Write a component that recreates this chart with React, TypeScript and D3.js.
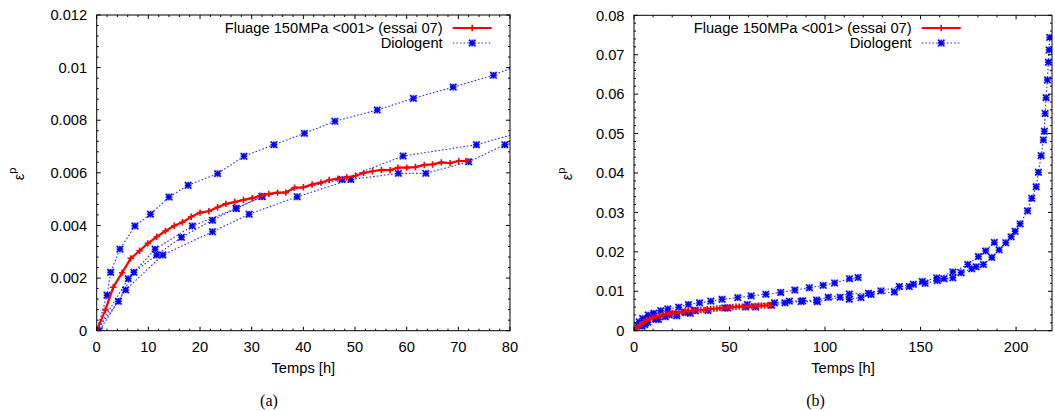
import React from "react";
import * as d3 from "d3";

// Experimental creep curve: Fluage 150MPa <001> (essai 07)
const redX = [0,1.68,3.2,4.9,6.6,8.3,9.9,11.6,13.3,15.0,16.6,18.3,20.0,21.7,23.4,25.0,26.7,28.4,30.1,31.6,33.3,35.0,36.6,38.3,40.0,41.7,43.4,45.0,46.7,48.4,50.1,51.7,53.4,55.1,56.8,58.3,60.0,61.7,63.4,65.0,66.7,68.4,70.1,71.6];
const redY = [0,0.00079,0.00165,0.0022,0.00275,0.00304,0.00332,0.00357,0.00379,0.00399,0.00412,0.00433,0.00449,0.00454,0.00469,0.00482,0.00489,0.00497,0.00504,0.00512,0.0052,0.00525,0.00525,0.00544,0.00545,0.00556,0.00563,0.00573,0.00578,0.00583,0.00589,0.006,0.00606,0.00611,0.0061,0.0062,0.0062,0.00622,0.0063,0.00632,0.0064,0.00637,0.00645,0.00645];

// Diologent simulations (several blocks)
const diolTX = [0,2.0,2.7,4.5,7.4,10.4,14.0,17.7,23.4,28.5,34.3,40.2,46.1,54.3,61.3,69.0,76.8,84.2,91.8,99.0,105.0,112.8,117.3];
const diolTY = [0,0.00135,0.00222,0.0031,0.00398,0.00443,0.00508,0.00553,0.00597,0.00663,0.00707,0.0075,0.00796,0.00839,0.00883,0.00926,0.00971,0.0103,0.0109,0.0115,0.0121,0.0132,0.0135];
const diolAX = [0,6.1,11.3,18.5,27.0,32.0,47.5,59.3,73.5,81.3,88.3,95.6,101.7,112.7,122.7,129.3,138.9,146.2,150.9,158.5,166.9,174.7,180.3,184.1,188.6];
const diolAY = [0,0.00198,0.0031,0.00398,0.00465,0.0051,0.00575,0.00664,0.00707,0.0075,0.0076,0.0078,0.00847,0.0093,0.0095,0.0101,0.0112,0.0118,0.0125,0.0134,0.0149,0.0168,0.0188,0.0202,0.0224];
const diolBX = [0,0.5,5.6,12.8,22.4,29.5,38.8,49.2,58.4,63.7,72.0,79.0,87.5,96.0,107.9,112.7,118.8,124.1,136.3,144.1,152.4,158.8,162.3,166.9,171.2,176.8,179.1,182.9,187.3,191.1,194.6,197.4,199.5,202.1,206.0,208.2,210.5,211.7,213.1,214.3,214.8,215.2,215.7,216.4,216.9,217.3,217.6];
const diolBY = [0,0,0.00155,0.00288,0.00376,0.00443,0.00509,0.00575,0.00598,0.00598,0.00642,0.00707,0.0074,0.00736,0.0085,0.008,0.0084,0.0092,0.0098,0.0112,0.012,0.0127,0.0132,0.0134,0.0147,0.0157,0.0162,0.0168,0.0186,0.0205,0.0223,0.0238,0.0252,0.0271,0.0304,0.0336,0.0365,0.0402,0.0444,0.0484,0.0506,0.0551,0.0591,0.0636,0.0681,0.0712,0.0744];
const diolCX = [0,4.2,7.2,11.6,16.4,22.4,27.0,32.0];
const diolCY = [0,0.00112,0.00222,0.00288,0.00355,0.0042,0.00465,0.0051];

const legendRed = "Fluage 150MPa <001> (essai 07)";
const legendBlue = "Diologent";
const xLabel = "Temps [h]";

const zip = (xs: number[], ys: number[]) => xs.map((x, i) => [x, ys[i]] as [number, number]);
const redData = zip(redX, redY);
const blueBlocks = [zip(diolTX, diolTY), zip(diolAX, diolAY), zip(diolBX, diolBY), zip(diolCX, diolCY)];

const FONT = "'Liberation Sans', Arial, Helvetica, sans-serif";
const FS = 14.7;
const BLUE = "#0000ff";
const RED = "#ff0000";

function plus(cx: number, cy: number, s: number) {
  return `M${cx - s},${cy}H${cx + s}M${cx},${cy - s}V${cy + s}`;
}
function star(cx: number, cy: number, s: number) {
  return plus(cx, cy, s) + `M${cx - s},${cy - s}L${cx + s},${cy + s}M${cx - s},${cy + s}L${cx + s},${cy - s}`;
}
function box(cx: number, cy: number, s: number) {
  return `M${cx - s},${cy - s}h${2 * s}v${2 * s}h${-2 * s}Z`;
}

type PanelProps = {
  id: string;
  left: number; right: number; top: number; bottom: number;
  xMax: number; xStep: number; xTickMax: number;
  yMax: number; yStep: number;
  legendEnd: number;
  ylabelX: number;
  caption: string; captionX: number;
};

function Panel(p: PanelProps) {
  const x = d3.scaleLinear().domain([0, p.xMax]).range([p.left, p.right]);
  const y = d3.scaleLinear().domain([0, p.yMax]).range([p.bottom, p.top]);
  const xMaj = d3.range(0, p.xTickMax + 1e-9, p.xStep);
  const xMin = d3.range(0, p.xMax + 1e-9, p.xStep / 5);
  const yMaj = d3.range(0, 100).map(i => i * p.yStep).filter(v => v <= p.yMax + 1e-12);
  const yMin = d3.range(0, 1000).map(i => i * p.yStep / 5).filter(v => v <= p.yMax + 1e-12);
  const fmt = d3.format("~g");
  const line = d3.line<[number, number]>().x(d => x(d[0])).y(d => y(d[1]));
  const inX = (v: number) => v >= -1e-9 && v <= p.xMax + 1e-9;
  const ML = 4, mL = 2;
  let tickPath = "";
  xMin.forEach(v => { const px = x(v); const L = xMaj.some(m => Math.abs(m - v) < 1e-9) ? ML : mL; tickPath += `M${px},${p.bottom}v${-L}M${px},${p.top}v${L}`; });
  yMin.forEach(v => { const py = y(v); const L = yMaj.some(m => Math.abs(m - v) < 1e-12) ? ML : mL; tickPath += `M${p.left},${py}h${L}M${p.right},${py}h${-L}`; });
  const lg0 = p.legendEnd + 10, lg1 = p.legendEnd + 49, lgm = (lg0 + lg1) / 2;
  return (
    <g>
      <defs>
        <clipPath id={"clip" + p.id}>
          <rect x={p.left} y={p.top} width={p.right - p.left} height={p.bottom - p.top} />
        </clipPath>
      </defs>
      <g clipPath={`url(#clip${p.id})`}>
        {blueBlocks.map((b, i) => (
          <path key={i} d={line(b) || ""} fill="none" stroke="#2a2aff" strokeWidth={1.1} strokeDasharray="1.6,2" />
        ))}
        {blueBlocks.map((b, i) => (
          <path key={"h" + i} d={b.filter(d => inX(d[0])).map(d => box(x(d[0]), y(d[1]), 3.8)).join("")} fill="#9a9aff" fillOpacity={0.45} stroke="none" />
        ))}
        {blueBlocks.map((b, i) => (
          <path key={"m" + i} d={b.filter(d => inX(d[0])).map(d => star(x(d[0]), y(d[1]), 3.2)).join("")} fill="none" stroke={BLUE} strokeWidth={1.5} />
        ))}
        <path d={line(redData) || ""} fill="none" stroke={RED} strokeWidth={2.2} />
        <path d={redData.map(d => plus(x(d[0]), y(d[1]), 3.2)).join("")} fill="none" stroke={RED} strokeWidth={1.6} />
      </g>
      <path d={tickPath} stroke="#000" strokeWidth={1} fill="none" />
      <rect x={p.left} y={p.top} width={p.right - p.left} height={p.bottom - p.top} fill="none" stroke="#000" strokeWidth={1} />
      <g fontFamily={FONT} fontSize={FS} fill="#000">
        {xMaj.map(v => (
          <text key={"x" + v} x={x(v)} y={p.bottom + 21.5} textAnchor="middle">{fmt(v)}</text>
        ))}
        {yMaj.map(v => (
          <text key={"y" + v} x={p.left - 9.5} y={y(v) + 5.2} textAnchor="end">{fmt(v)}</text>
        ))}
        <text x={(p.left + p.right) / 2} y={373} textAnchor="middle">{xLabel}</text>
        <text x={p.legendEnd} y={33} textAnchor="end">{legendRed}</text>
        <text x={p.legendEnd} y={48} textAnchor="end">{legendBlue}</text>
      </g>
      <line x1={lg0} x2={lg1} y1={28} y2={28} stroke={RED} strokeWidth={2.2} />
      <path d={plus(lgm, 28, 3.2)} stroke={RED} strokeWidth={1.6} />
      <line x1={lg0} x2={lg1} y1={43} y2={43} stroke="#2a2aff" strokeWidth={1.1} strokeDasharray="1.6,2" />
      <path d={box(lgm, 43, 3.8)} fill="#9a9aff" fillOpacity={0.45} />
      <path d={star(lgm, 43, 3.2)} stroke={BLUE} strokeWidth={1.5} />
      <text transform={`translate(${p.ylabelX},174) rotate(-90)`} textAnchor="middle" fontFamily={FONT} fontSize={FS}>
        ε<tspan dy={-7.5} fontSize={11}>p</tspan>
      </text>
      <text x={p.captionX} y={406} textAnchor="middle" fontFamily="'Liberation Serif', 'Times New Roman', serif" fontSize={16}>{p.caption}</text>
    </g>
  );
}

export default function App() {
  return (
    <svg width={1055} height={411} style={{ position: "absolute", left: 0, top: 0, background: "#fff" }}>
      <rect width={1055} height={411} fill="#fff" />
      <Panel id="a" left={96.7} right={510} top={15} bottom={330.7} xMax={80} xStep={10} xTickMax={80}
        yMax={0.012} yStep={0.002} legendEnd={442.7} ylabelX={23.5} caption="(a)" captionX={269} />
      <Panel id="b" left={634} right={1052} top={15.3} bottom={330.7} xMax={218.8} xStep={50} xTickMax={200}
        yMax={0.08} yStep={0.01} legendEnd={911.7} ylabelX={572} caption="(b)" captionX={815.5} />
    </svg>
  );
}
